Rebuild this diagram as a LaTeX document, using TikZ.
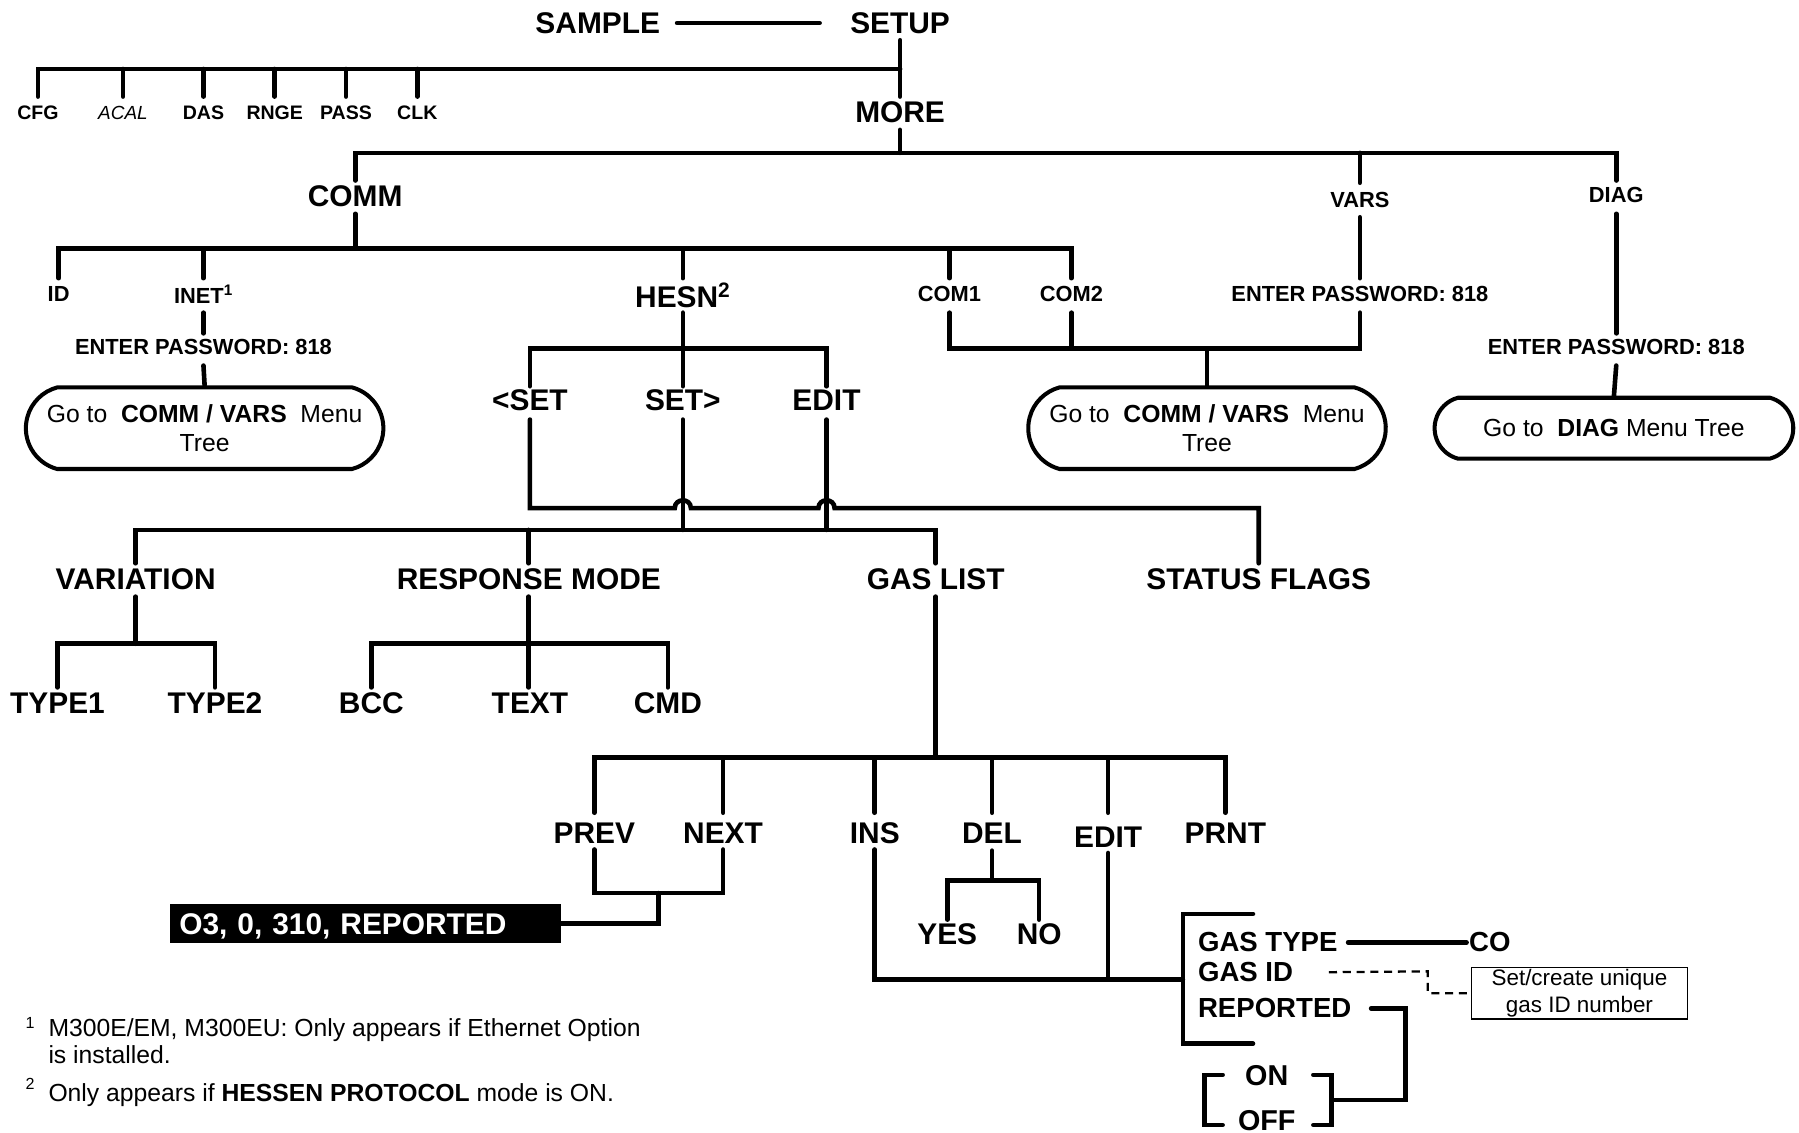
\documentclass[tikz,border=0pt]{standalone}
\usepackage{fontspec}
\setmainfont{Liberation Sans}
\usetikzlibrary{calc,shapes.misc}
\tikzset{
  ln/.style={line width=4pt, line cap=round},
  big/.style={font=\fontsize{26}{30}\selectfont\bfseries, inner sep=0pt},
  mid/.style={font=\fontsize{19}{22}\selectfont\bfseries, inner sep=0pt},
  sml/.style={font=\fontsize{17}{20}\selectfont\bfseries, inner sep=0pt},
  gas/.style={font=\fontsize{24}{28}\selectfont\bfseries, inner sep=0pt, anchor=base west},
  onoff/.style={font=\fontsize{25}{28}\selectfont\bfseries, inner sep=0pt, anchor=base},
  gobox/.style={draw, line width=3.5pt, rounded rectangle, rounded rectangle arc length=150,
    minimum width=311pt, minimum height=71pt, inner sep=0pt, align=center,
    font=\fontsize{21.5}{26}\selectfont},
  fn/.style={font=\fontsize{21.5}{26}\selectfont, inner sep=0pt, anchor=base west},
  fnmark/.style={font=\fontsize{14}{16}\selectfont, inner sep=0pt, anchor=base west},
  notebox/.style={draw, line width=1.3pt, minimum width=188pt, minimum height=44.5pt,
    inner sep=0pt, align=center, font=\fontsize{19.5}{23}\selectfont},
  dsh/.style={line width=2pt, dash pattern=on 7pt off 5pt},
}
\begin{document}
\begin{tikzpicture}[x=1pt,y=-1pt]
\useasboundingbox (0,0) rectangle (1565,985);

% ---- nodes ----
\node[big] (sample) at (520,20) {SAMPLE};
\node[big] (setup) at (783,20) {SETUP};
\node[sml] (cfg) at (33,98) {CFG};
\node[font=\fontsize{16.5}{20}\selectfont\itshape, inner sep=0pt] (acal) at (107,98) {ACAL};
\node[sml] (das) at (177,98) {DAS};
\node[sml] (rnge) at (239,98) {RNGE};
\node[sml] (pass) at (301,98) {PASS};
\node[sml] (clk) at (363,98) {CLK};
\node[big] (more) at (783,98) {MORE};
\node[big] (comm) at (309,171) {COMM};
\node[mid] (vars) at (1183,174) {VARS};
\node[mid] (diag) at (1406,170) {DIAG};
\node[mid] (id) at (51,256) {ID};
\node[mid] (inet) at (177,256) {INET\textsuperscript{1}};
\node[big] (hesn) at (594,257) {HESN\textsuperscript{2}};
\node[mid] (com1) at (826,256) {COM1};
\node[mid] (com2) at (932,256) {COM2};
\node[mid] (pw2) at (1183,256) {ENTER PASSWORD: 818};
\node[mid] (pw1) at (177,302) {ENTER PASSWORD: 818};
\node[mid] (pw3) at (1406,302) {ENTER PASSWORD: 818};
\node[gobox] (box1) at (178,372.5) {Go to\ \ \textbf{COMM / VARS}\ \ Menu\\Tree};
\node[gobox] (box2) at (1050,372.5) {Go to\ \ \textbf{COMM / VARS}\ \ Menu\\Tree};
\node[gobox, minimum width=312pt, minimum height=53pt] (box3) at (1404,372.5) {Go to\ \ \textbf{DIAG} Menu Tree};
\node[big] (lset) at (461,348) {<SET};
\node[big] (rset) at (594,348) {SET>};
\node[big] (hedit) at (719,348) {EDIT};
\node[big] (variation) at (118,504) {VARIATION};
\node[big] (respmode) at (460,504) {RESPONSE MODE};
\node[big] (gaslist) at (814,504) {GAS LIST};
\node[big] (status) at (1095,504) {STATUS FLAGS};
\node[big] (type1) at (50,612) {TYPE1};
\node[big] (type2) at (187,612) {TYPE2};
\node[big] (bcc) at (323,612) {BCC};
\node[big] (text) at (461,612) {TEXT};
\node[big] (cmd) at (581,612) {CMD};
\node[big] (prev) at (517,725) {PREV};
\node[big] (next) at (629,725) {NEXT};
\node[big] (ins) at (761,725) {INS};
\node[big] (del) at (863,725) {DEL};
\node[big] (gedit) at (964,728) {EDIT};
\node[big] (prnt) at (1066,725) {PRNT};
\node[big] (yes) at (824,813) {YES};
\node[big] (no) at (904,813) {NO};
\node[big, fill=black, text=white, minimum height=34pt, text width=324pt, inner xsep=8pt,
  inner ysep=0pt, align=left, text depth=0pt] (o3) at (318,803.5) {O3, 0, 310, REPORTED};
\node[gas] (gastype) at (1042,828) {GAS TYPE};
\node[gas] (gasid) at (1042,854) {GAS ID};
\node[gas] (reported) at (1042,885.5) {REPORTED};
\node[gas, anchor=base] (co) at (1296,828) {CO};
\node[notebox] (note) at (1374,864) {Set/create unique\\gas ID number};
\node[onoff] (on) at (1102,944) {ON};
\node[onoff] (off) at (1102,983.5) {OFF};
\node[fnmark] (m1) at (22,895) {1};
\node[fn] (fn1) at (42,902) {M300E/EM, M300EU: Only appears if Ethernet Option};
\node[fn] (fn1b) at (42,925) {is installed.};
\node[fnmark] (m2) at (22,948) {2};
\node[fn] (fn2) at (42,958) {Only appears if \textbf{HESSEN PROTOCOL} mode is ON.};

% ---- helper coordinates ----
\coordinate (gbt) at (1029,795);
\coordinate (gbb) at (1029,908);
\coordinate (lbt) at (1047.6,935);
\coordinate (lbb) at (1047.6,978.7);
\coordinate (rbt) at (1158.5,935);
\coordinate (rbb) at (1158.5,978.7);
\coordinate (rj) at (1222.5,957);
\coordinate (dstep) at (1242,845);

% ---- connectors ----
\draw[ln] (sample -| 589,0) -- (setup -| 713,0);
\draw[ln] (setup |- 0,35) -- (more |- 0,84);
\draw[ln] (cfg |- 0,84) |- (setup |- 0,60);
\foreach \n in {acal,das,rnge,pass,clk} \draw[ln] (\n |- 0,60) -- (\n |- 0,84);
\draw[ln] (more |- 0,113) -- (more |- 0,133);
\draw[ln] (comm |- 0,157) |- (diag |- 0,133) -- (diag |- 0,157);
\draw[ln] (vars |- 0,133) -- (vars |- 0,159);
\draw[ln] (comm |- 0,186) -- (comm |- 0,216);
\draw[ln] (id |- 0,242) |- (com2 |- 0,216) -- (com2 |- 0,242);
\foreach \n in {inet,hesn,com1} \draw[ln] (\n |- 0,216) -- (\n |- 0,242);
\draw[ln] (vars |- 0,189) -- (vars |- 0,242);
\draw[ln] (diag |- 0,186) -- (diag |- 0,290);
\draw[ln] (inet |- 0,272) -- (inet |- 0,290);
\draw[ln] (pw1 |- 0,318) -- (box1.north);
\draw[ln] (pw3 |- 0,318) -- (box3.north);
\draw[ln] (com1 |- 0,272) |- (pw2 |- 0,303) -- (pw2 |- 0,272);
\draw[ln] (com2 |- 0,272) -- (com2 |- 0,303);
\draw[ln] (box2.north) -- (box2 |- 0,303);
% HESN
\draw[ln] (hesn |- 0,272) -- (rset |- 0,336);
\draw[ln] (lset |- 0,336) |- (hedit |- 0,303) -- (hedit |- 0,336);
\draw[ln] (lset |- 0,365) -- (lset |- 0,442)
  -- ($(rset |- 0,442)+(-7,0)$) .. controls ($(rset |- 0,442)+(-7,-9)$) and ($(rset |- 0,442)+(7,-9)$) .. ($(rset |- 0,442)+(7,0)$)
  -- ($(hedit |- 0,442)+(-7,0)$) .. controls ($(hedit |- 0,442)+(-7,-9)$) and ($(hedit |- 0,442)+(7,-9)$) .. ($(hedit |- 0,442)+(7,0)$)
  -- (status |- 0,442) -- (status |- 0,490);
\draw[ln] (rset |- 0,365) -- (rset |- 0,461);
\draw[ln] (hedit |- 0,365) -- (hedit |- 0,461);
\draw[ln] (variation |- 0,490) |- (gaslist |- 0,461) -- (gaslist |- 0,490);
\draw[ln] (respmode |- 0,461) -- (respmode |- 0,490);
\draw[ln] (variation |- 0,519) -- (variation |- 0,560);
\draw[ln] (type1 |- 0,598) |- (type2 |- 0,560) -- (type2 |- 0,598);
\draw[ln] (respmode |- 0,519) -- (respmode |- 0,598);
\draw[ln] (bcc |- 0,598) |- (cmd |- 0,560) -- (cmd |- 0,598);
% GAS LIST
\draw[ln] (gaslist |- 0,519) -- (gaslist |- 0,659);
\draw[ln] (prev |- 0,707) |- (prnt |- 0,659) -- (prnt |- 0,707);
\foreach \n in {next,ins,del,gedit} \draw[ln] (\n |- 0,659) -- (\n |- 0,707);
\draw[ln] (prev |- 0,739) |- (next |- 0,777) -- (next |- 0,739);
\draw[ln] ($(prev |- 0,777)!0.5!(next |- 0,777)$) |- (o3.east);
\draw[ln] (ins |- 0,739) |- (gbt |- 0,852);
\draw[ln] (gedit |- 0,742) -- (gedit |- 0,852);
\draw[ln] (del |- 0,740) -- (del |- 0,766);
\draw[ln] (yes |- 0,800) |- (no |- 0,766) -- (no |- 0,800);
% EDIT bracket
\draw[ln] ([xshift=61pt]gbt) -- (gbt) -- (gbb) -- ([xshift=61pt]gbb);
\draw[ln] ([xshift=9pt]gastype.east) -- ([xshift=-2pt]co.west);
\draw[dsh] ([xshift=31pt]gasid.east) -- (dstep) -- (dstep |- note.west) -- (note.west);
\draw[ln] ([xshift=17pt]reported.east) -- (rj |- reported.east) -- (rj) -- (rbt |- rj);
\draw[ln] ([xshift=16pt]lbt) -- (lbt) -- (lbb) -- ([xshift=16pt]lbb);
\draw[ln] ([xshift=-16pt]rbt) -- (rbt) -- (rbb) -- ([xshift=-16pt]rbb);
\end{tikzpicture}
\end{document}
